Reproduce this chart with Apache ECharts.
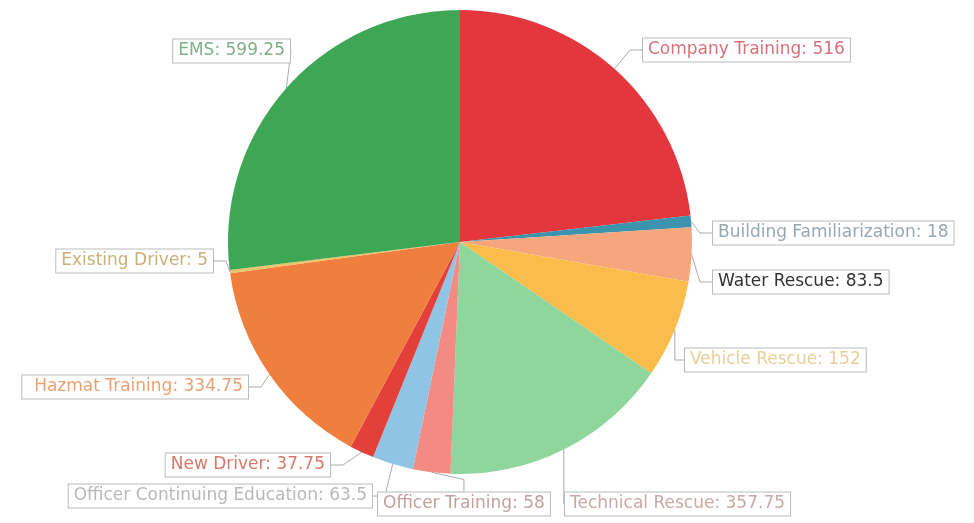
<!DOCTYPE html>
<html><head><meta charset="utf-8">
<script src="https://cdn.jsdelivr.net/npm/echarts@6/dist/echarts.min.js"></script>
<style>html,body{margin:0;padding:0;background:#fff}#c{width:974px;height:523px}</style>
</head><body><div id="c"></div>
<script>
const categories = ["Company Training","Building Familiarization","Water Rescue","Vehicle Rescue","Technical Rescue","Officer Training","Officer Continuing Education","New Driver","Hazmat Training","Existing Driver","EMS"];
const values = [516,18,83.5,152,357.75,58,63.5,37.75,334.75,5,599.25];
const colors = ["#e3363d","#3b93ad","#f5a67c","#fcbc4c","#8ed69b","#f28b84","#8fc4e4","#e3403a","#f07e3e","#e8c46a","#3ea756"];
const textColors = ["#d9707a","#98a8b0","#333333","#e8cf9a","#c9a8a8","#c0a0a0","#b8b8b8","#d8776a","#eba070","#c8b07a","#7fb08a"];
// label anchor positions (layout only): [x, yCenter, align]
const labelPos = [[643,50,'left'],[713,233,'left'],[713,282,'left'],[685,360,'left'],[565,504,'left'],[378,504,'left'],[372,496,'right'],[330,465,'right'],[248,387,'right'],[213,261,'right'],[290,51,'right']];

const chart = echarts.init(document.getElementById('c'));
chart.setOption({
  animation:false,
  series:[{
    type:'pie',
    center:[460,242],
    radius:232,
    startAngle:90,
    clockwise:true,
    data: categories.map((n,i)=>({name:n,value:values[i],itemStyle:{color:colors[i]},
      label:{color:textColors[i]}})),
    label:{
      formatter:'{b}: {c}',
      fontFamily:'DejaVu Sans',
      fontSize:17,
      backgroundColor:'#fff',
      borderColor:'#bbb',
      borderWidth:1,
      padding:[3,5]
    },
    labelLine:{length:12,length2:12,lineStyle:{color:'#aaa'}},
    labelLayout:function(p){
      const q = labelPos[p.dataIndex];
      return {x:q[0], y:q[1], align:q[2], verticalAlign:'middle'};
    },
    itemStyle:{borderWidth:0}
  }]
});
</script></body></html>
